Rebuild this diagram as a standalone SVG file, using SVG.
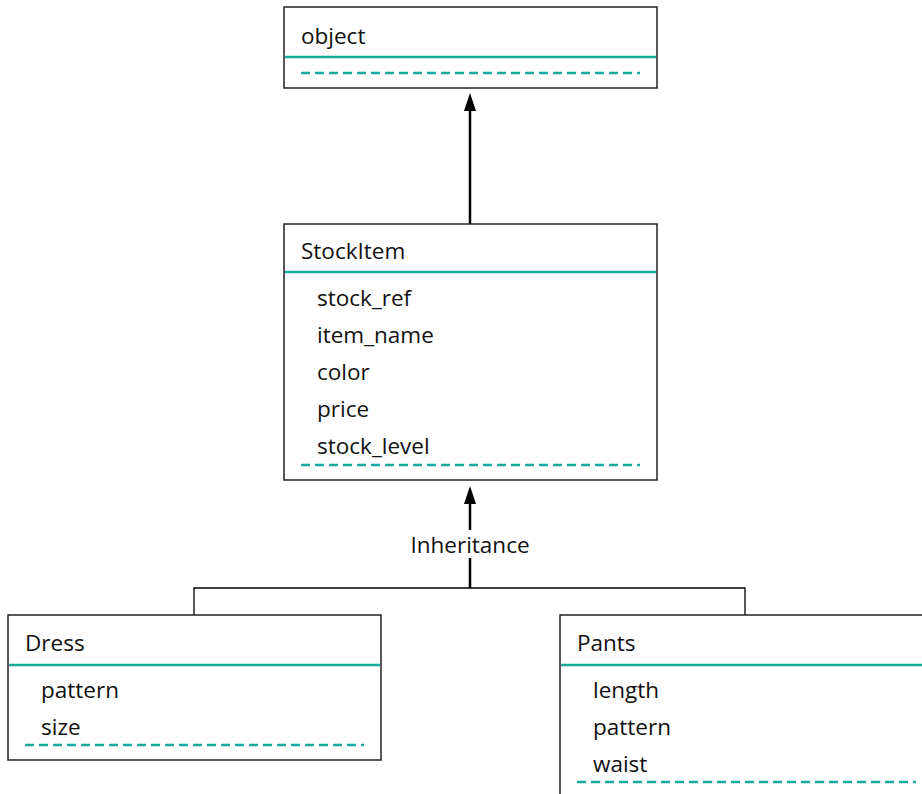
<svg xmlns="http://www.w3.org/2000/svg" width="922" height="794" viewBox="0 0 922 794">
<style>
.box{fill:#fff;stroke:#222;stroke-width:1.5}
.sep{stroke:#17a99b;stroke-width:2.5}
.dash{stroke:#17a99b;stroke-width:2.5;stroke-dasharray:9 5}
text{font-family:"Open Sans","Noto Sans",sans-serif;font-size:22.5px;fill:#111}
.conn{stroke:#000;fill:none}
</style>
<g id="connectors">
<line class="conn" x1="470" y1="224" x2="470" y2="110" stroke-width="2.5"/>
<path d="M464,111 L470,93 L476,111 Z" fill="#000"/>
<line class="conn" x1="470" y1="588" x2="470" y2="558" stroke-width="2.5"/>
<line class="conn" x1="470" y1="530" x2="470" y2="503" stroke-width="2.5"/>
<path d="M464,504 L470,486 L476,504 Z" fill="#000"/>
<path class="conn" d="M194,615 V588 H745 V615" stroke-width="1.3"/>
<text x="470" y="553" text-anchor="middle">Inheritance</text>
</g>
<g id="object">
<rect class="box" x="284" y="7" width="373" height="81"/>
<line class="sep" x1="285" y1="57" x2="656" y2="57"/>
<line class="dash" x1="301" y1="73" x2="640" y2="73"/>
<text x="301" y="44">object</text>
</g>
<g id="StockItem">
<rect class="box" x="284" y="224" width="373" height="256"/>
<line class="sep" x1="285" y1="272" x2="656" y2="272"/>
<text x="301" y="259">StockItem</text>
<text x="317" y="306">stock_ref</text>
<text x="317" y="343">item_name</text>
<text x="317" y="380">color</text>
<text x="317" y="417">price</text>
<text x="317" y="454">stock_level</text>
<line class="dash" x1="301" y1="465" x2="640" y2="465"/>
</g>
<g id="Dress">
<rect class="box" x="8" y="615" width="373" height="145"/>
<line class="sep" x1="9" y1="665" x2="380" y2="665"/>
<text x="25" y="651">Dress</text>
<text x="41" y="698">pattern</text>
<text x="41" y="735">size</text>
<line class="dash" x1="25" y1="745" x2="364" y2="745"/>
</g>
<g id="Pants">
<rect class="box" x="560" y="615" width="373" height="200"/>
<line class="sep" x1="561" y1="665" x2="932" y2="665"/>
<text x="577" y="651">Pants</text>
<text x="593" y="698">length</text>
<text x="593" y="735">pattern</text>
<text x="593" y="772">waist</text>
<line class="dash" x1="577" y1="782" x2="916" y2="782"/>
</g>
</svg>
